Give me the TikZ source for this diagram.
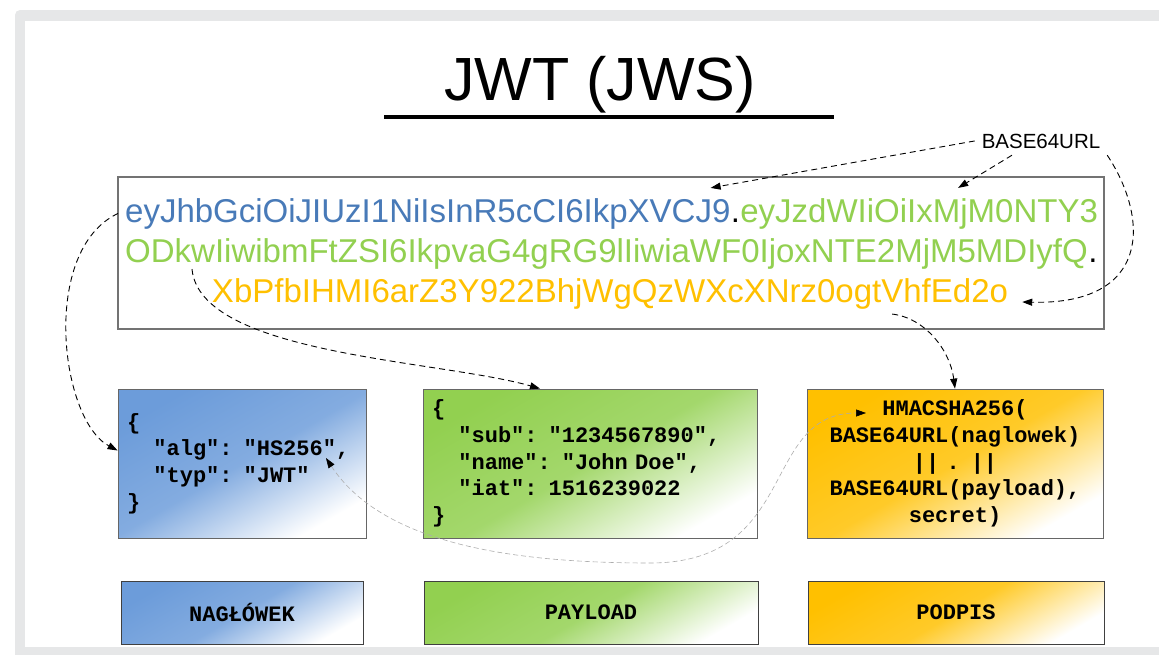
\documentclass[tikz,border=0pt]{standalone}
\usepackage{fontspec}
\setmainfont{Liberation Sans}
\newfontfamily\codefont{Liberation Mono}
\usetikzlibrary{arrows.meta}
\definecolor{framegray}{RGB}{230,231,232}
\definecolor{jwtblue}{RGB}{72,122,184}
\definecolor{jwtgreen}{RGB}{146,208,80}
\definecolor{jwtorange}{RGB}{255,192,0}
\definecolor{hdrblue}{RGB}{108,156,218}
\newcommand{\ind}{\hspace*{1.2em}}
\tikzset{every node/.style={inner sep=0pt}}
\tikzset{tok/.style={font=\fontsize{33}{40}\selectfont}}
\tikzset{codebox/.style={draw=black!60,line width=0.8pt,minimum height=149pt,inner xsep=9pt,font=\codefont\bfseries\fontsize{22}{26.7}\selectfont}}
\tikzset{lblbox/.style={draw=black!75,line width=1pt,minimum height=63pt,font=\codefont\bfseries\fontsize{22}{26}\selectfont}}
\tikzset{bluefill/.style={top color=hdrblue,bottom color=white,middle color=hdrblue!84!white,shading angle=30}}
\tikzset{greenfill/.style={top color=jwtgreen,bottom color=white,middle color=jwtgreen!84!white,shading angle=30}}
\tikzset{orangefill/.style={top color=jwtorange,bottom color=white,middle color=jwtorange!84!white,shading angle=30}}
\tikzset{link/.style={draw,dash pattern=on 6pt off 4pt,line width=0.9pt,-{Triangle[length=10pt,width=7pt]}}}
\tikzset{glink/.style={draw=black!32,dash pattern=on 5pt off 3pt,line width=0.6pt,{Triangle[length=10pt,width=7pt,color=black]}-{Triangle[length=10pt,width=7pt,color=black]}}}
\begin{document}
\begin{tikzpicture}[x=1pt,y=-1pt]
  \useasboundingbox (0,0) rectangle (1159,654);
  \fill[framegray,rounded corners=5pt] (15,10) rectangle (1190,690);
  \fill[white] (25,20.5) rectangle (1190,646.5);
  \node[anchor=base,font=\fontsize{61}{70}\selectfont] (title) at (600,100) {JWT (JWS)};
  \draw[line width=3.3pt] (384,117) -- (834,117);
  \node[anchor=base,inner sep=6.8pt,font=\fontsize{20.5}{24}\selectfont] (b64) at (1041,148) {BASE64URL};
  \node[draw=black!55,line width=1.3pt,minimum width=986pt,minimum height=152pt] (token) at (611,253) {};
  \node[tok,anchor=base west,text=jwtblue] (hdr) at (125,222) {eyJhbGciOiJIUzI1NiIsInR5cCI6IkpXVCJ9};
  \node[tok,anchor=base west] (dotA) at (hdr.base east) {.};
  \node[tok,anchor=base west,text=jwtgreen] (payA) at (dotA.base east) {eyJzdWIiOiIxMjM0NTY3};
  \node[tok,anchor=base west,text=jwtgreen] (payB) at (125,262) {ODkwIiwibmFtZSI6IkpvaG4gRG9lIiwiaWF0IjoxNTE2MjM5MDIyfQ};
  \node[tok,anchor=base west] (dotB) at (payB.base east) {.};
  \node[tok,anchor=base,text=jwtorange] (sig) at (610,302) {XbPfbIHMI6arZ3Y922BhjWgQzWXcXNrz0ogtVhfEd2o};
  \node[codebox,bluefill,text width=230pt,align=left] (hdrbox) at (242,463.5) {\{\\\ind"alg": "HS256",\\\ind"typ": "JWT"\\\}};
  \node[codebox,greenfill,text width=316pt,align=left] (paybox) at (590,463.5) {\{\\\ind"sub": "1234567890",\\\ind"name": "John Doe",\\\ind"iat": 1516239022\\\}};
  \node[codebox,orangefill,text width=278pt,align=center] (sigbox) at (955,463.5) {HMACSHA256(\\BASE64URL(naglowek)\\|| . ||\\BASE64URL(payload),\\secret)};
  \node[lblbox,bluefill,minimum width=242pt] (hdrlbl) at (242,612.5) {NAGŁÓWEK};
  \node[lblbox,greenfill,minimum width=334pt] (paylbl) at (591,612.5) {PAYLOAD};
  \node[lblbox,orangefill,minimum width=296pt] (siglbl) at (956,612.5) {PODPIS};
  \coordinate (hs) at (326,458);
  \coordinate (hmac) at (866,413);
  \draw[link] (b64.west) -- ([xshift=-20pt,yshift=10pt]hdr.north east);
  \draw[link] ([xshift=-29pt]b64.south) -- ([xshift=39pt,yshift=10pt]payA.north);
  \draw[link] (b64.south east) .. controls (1150,220) and (1150,305) .. ([xshift=14pt]sig.base east);
  \draw[link] ([xshift=-7pt]hdr.west) .. controls (40,250) and (60,420) .. ([yshift=13pt]hdrbox.west);
  \draw[link] ([xshift=67pt]payB.south west) .. controls (200,355) and (440,360) .. ([xshift=-50pt]paybox.north);
  \draw[link] ([xshift=-116pt,yshift=-5pt]sig.south east) .. controls (925,318) and (950,350) .. (sigbox.north);
  \draw[glink] (hs) .. controls (380,540) and (500,563) .. (650,563) .. controls (800,563) and (760,413) .. (hmac);
\end{tikzpicture}
\end{document}
